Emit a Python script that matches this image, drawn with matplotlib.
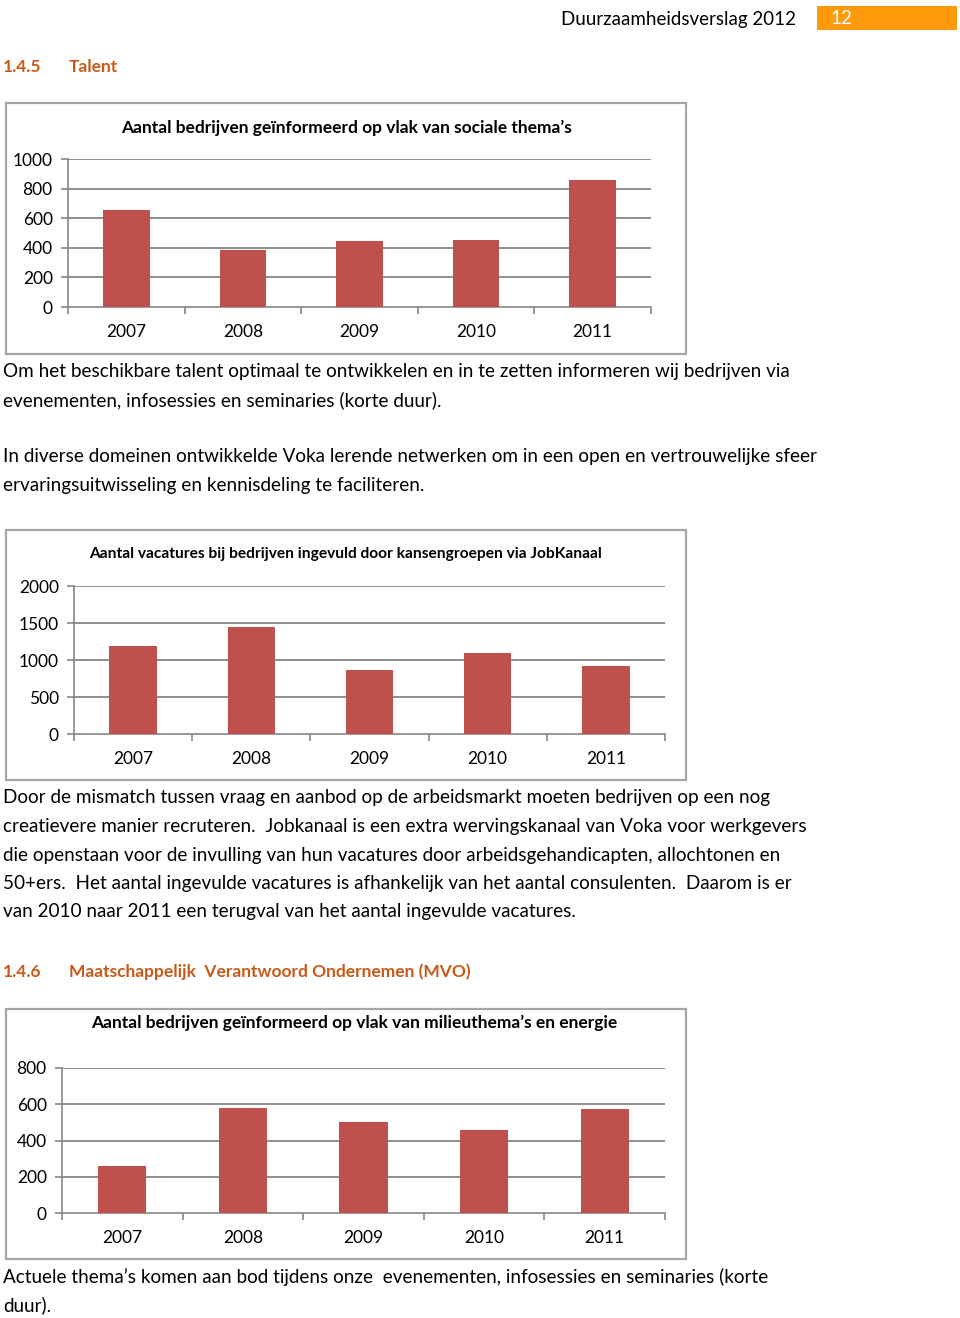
import matplotlib
matplotlib.use("Agg")
import matplotlib.pyplot as plt
from matplotlib.patches import Rectangle

plt.rcParams['font.family'] = ['Lato', 'DejaVu Sans']

W, H = 960, 1318

# data read from the page
years = ['2007', '2008', '2009', '2010', '2011']
sociaal = [655, 385, 446, 450, 858]
vacatures = [1190, 1446, 865, 1100, 920]
milieu = [260, 580, 502, 458, 572]

titel_1 = 'Aantal bedrijven geïnformeerd op vlak van sociale thema’s'
titel_2 = 'Aantal vacatures bij bedrijven ingevuld door kansengroepen via JobKanaal'
titel_3 = 'Aantal bedrijven geïnformeerd op vlak van milieuthema’s en energie'

BAR = '#c0504d'
GRID = '#868686'
FRAME = '#a6a6a6'
HEAD = '#c85a19'


def fx(x):
    return x / W


def fy(y):
    return 1 - y / H


fig = plt.figure(figsize=(9.6, 13.18), dpi=100)


def chart(frame, plot, values, yticks, title, title_xy, title_size):
    # frame around the chart (pixels: x0, y0, x1, y1)
    x0, y0, x1, y1 = frame
    fig.patches.append(Rectangle((fx(x0), fy(y1)), fx(x1 - x0), (y1 - y0) / H,
                                 transform=fig.transFigure, fill=False,
                                 edgecolor=FRAME, linewidth=1.6))
    fig.text(fx(title_xy[0]), fy(title_xy[1]), title, ha='center', va='center',
             fontsize=title_size, fontweight='bold')
    px0, py0, px1, py1 = plot
    ax = fig.add_axes([fx(px0), fy(py1), fx(px1 - px0), (py1 - py0) / H])
    ax.bar(range(len(values)), values, width=0.4, color=BAR, zorder=3)
    ax.set_xlim(-0.5, len(values) - 0.5)
    ax.set_ylim(0, yticks[-1])
    ax.set_yticks(yticks)
    ax.set_yticklabels([str(t) for t in yticks], fontsize=12.5)
    ax.set_xticks(range(len(values)))
    ax.set_xticklabels(years, fontsize=12.5)
    ax.set_xticks([i - 0.5 for i in range(len(values) + 1)], minor=True)
    ax.tick_params(axis='x', which='major', length=0, pad=12)
    ax.tick_params(axis='x', which='minor', length=5, color=GRID, width=1.2)
    ax.tick_params(axis='y', length=5, color=GRID, width=1.2, pad=6)
    for t in yticks[1:]:
        ax.axhline(t, color=GRID, linewidth=1.3, zorder=1)
    for s in ['top', 'right']:
        ax.spines[s].set_visible(False)
    for s in ['left', 'bottom']:
        ax.spines[s].set_color(GRID)
        ax.spines[s].set_linewidth(1.2)
    ax.set_facecolor('none')
    return ax


# header
fig.text(fx(796), fy(19), 'Duurzaamheidsverslag 2012', ha='right', va='center', fontsize=13.5)
fig.patches.append(Rectangle((fx(817), fy(30)), fx(140), 24 / H, transform=fig.transFigure,
                             facecolor='#ff9a0a', edgecolor='none'))
fig.text(fx(830), fy(19), '12', ha='left', va='center', fontsize=13.5, color='white')

fig.text(fx(3), fy(67), '1.4.5', fontsize=12.5, fontweight='bold', color=HEAD, va='center')
fig.text(fx(69), fy(67), 'Talent', fontsize=12.5, fontweight='bold', color=HEAD, va='center')

chart((6, 103, 686, 354), (68, 159, 651, 307), sociaal,
      [0, 200, 400, 600, 800, 1000], titel_1, (346, 128), 12.5)

body = 13.6
fig.text(fx(3), fy(371), 'Om het beschikbare talent optimaal te ontwikkelen en in te zetten informeren wij bedrijven via',
         fontsize=body, va='center')
fig.text(fx(3), fy(400), 'evenementen, infosessies en seminaries (korte duur).', fontsize=body, va='center')
fig.text(fx(3), fy(457), 'In diverse domeinen ontwikkelde Voka lerende netwerken om in een open en vertrouwelijke sfeer',
         fontsize=body, va='center')
fig.text(fx(3), fy(486), 'ervaringsuitwisseling en kennisdeling te faciliteren.', fontsize=body, va='center')

chart((6, 530, 686, 780), (74, 586, 665, 734), vacatures,
      [0, 500, 1000, 1500, 2000], titel_2, (346, 554), 11.2)

lines = [
    'Door de mismatch tussen vraag en aanbod op de arbeidsmarkt moeten bedrijven op een nog',
    'creatievere manier recruteren.  Jobkanaal is een extra wervingskanaal van Voka voor werkgevers',
    'die openstaan voor de invulling van hun vacatures door arbeidsgehandicapten, allochtonen en',
    '50+ers.  Het aantal ingevulde vacatures is afhankelijk van het aantal consulenten.  Daarom is er',
    'van 2010 naar 2011 een terugval van het aantal ingevulde vacatures.',
]
for i, line in enumerate(lines):
    fig.text(fx(3), fy(798 + i * 28.5), line, fontsize=body, va='center')

fig.text(fx(3), fy(972), '1.4.6', fontsize=12.5, fontweight='bold', color=HEAD, va='center')
fig.text(fx(69), fy(972), 'Maatschappelijk  Verantwoord Ondernemen (MVO)', fontsize=12.5,
         fontweight='bold', color=HEAD, va='center')

chart((6, 1009, 686, 1259), (62, 1068, 665, 1213), milieu,
      [0, 200, 400, 600, 800], titel_3, (354, 1023), 12.5)

fig.text(fx(3), fy(1277), 'Actuele thema’s komen aan bod tijdens onze  evenementen, infosessies en seminaries (korte',
         fontsize=body, va='center')
fig.text(fx(3), fy(1305), 'duur).', fontsize=body, va='center')

fig.savefig('out.png', dpi=100, facecolor='white')
